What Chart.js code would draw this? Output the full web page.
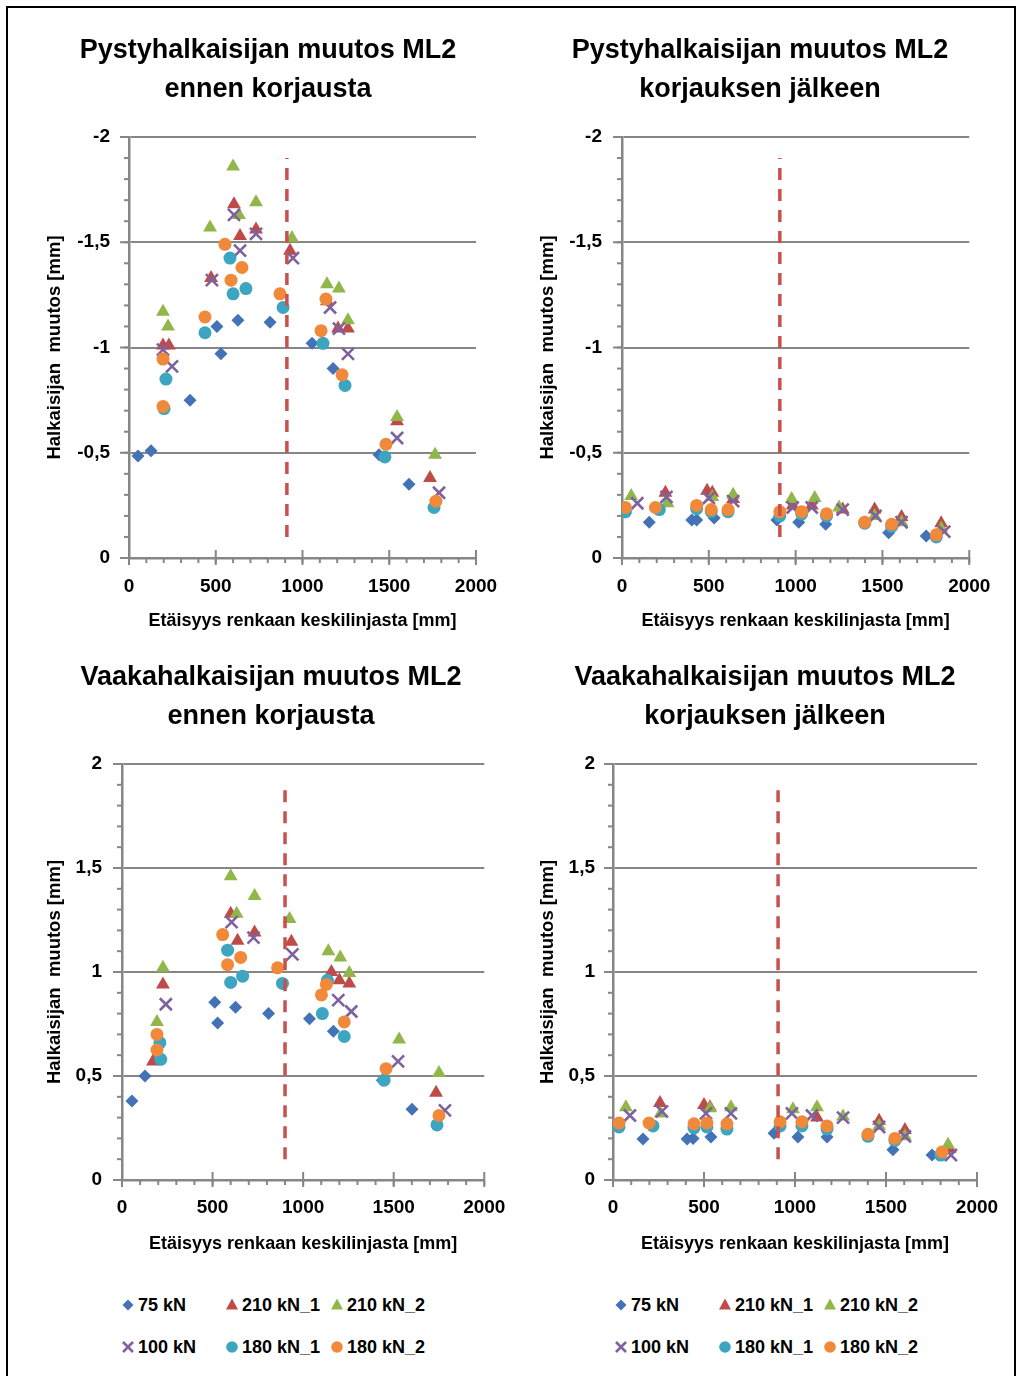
<!DOCTYPE html>
<html><head><meta charset="utf-8">
<script src="https://cdn.jsdelivr.net/npm/chart.js@4.4.1/dist/chart.umd.min.js"></script>
<style>
html,body{margin:0;padding:0;background:#fff;}
body{width:1017px;height:1376px;position:relative;overflow:hidden;font-family:"Liberation Sans",Arial,sans-serif;}
#frame{position:absolute;left:6px;top:6px;width:1006px;height:1400px;border:2px solid #000;}
canvas{position:absolute;}
.leg{position:absolute;font-weight:bold;font-size:18px;color:#000;white-space:nowrap;height:20px;line-height:20px;}
.leg svg{position:absolute;left:0;top:0;}
.leg span{position:absolute;left:17px;top:0;}
</style></head><body>
<div id="frame"></div>
<canvas id="c1" width="496" height="630" style="left:20px;top:10px"></canvas>
<canvas id="c2" width="496" height="630" style="left:512px;top:10px"></canvas>
<canvas id="c3" width="502" height="630" style="left:20px;top:637px"></canvas>
<canvas id="c4" width="502" height="630" style="left:514px;top:637px"></canvas>
<div id="legends"></div>
<script>
// ---------- data ----------
const seriesNames = ['75 kN','210 kN_1','210 kN_2','100 kN','180 kN_1','180 kN_2'];
const xTicks = [0,500,1000,1500,2000];
const yTicksPysty = [-2,-1.5,-1,-0.5,0];
const yTicksVaaka = [0,0.5,1,1.5,2];

// Pystyhalkaisijan muutos, ennen korjausta [x mm, y mm]
const pe75  = [[52,-0.485],[127,-0.51],[352,-0.75],[507,-1.10],[530,-0.97],[628,-1.13],[813,-1.12],[1055,-1.02],[1176,-0.90],[1441,-0.49],[1614,-0.35]];
const pe210a= [[196,-1.01],[230,-1.01],[473,-1.33],[605,-1.68],[640,-1.53],[732,-1.56],[928,-1.46],[1141,-1.22],[1205,-1.09],[1262,-1.09],[1545,-0.65],[1735,-0.38]];
const pe210b= [[196,-1.17],[225,-1.10],[467,-1.57],[600,-1.86],[634,-1.63],[732,-1.69],[939,-1.52],[1141,-1.30],[1210,-1.28],[1262,-1.13],[1545,-0.67],[1764,-0.49]];
const pe100 = [[196,-0.99],[248,-0.91],[478,-1.32],[605,-1.63],[640,-1.46],[732,-1.54],[945,-1.425],[1159,-1.19],[1210,-1.09],[1262,-0.97],[1545,-0.57],[1787,-0.31]];
const pe180a= [[202,-0.71],[213,-0.85],[438,-1.07],[582,-1.425],[600,-1.255],[674,-1.28],[888,-1.19],[1118,-1.02],[1245,-0.82],[1475,-0.48],[1758,-0.24]];
const pe180b= [[196,-0.72],[196,-0.945],[438,-1.145],[553,-1.49],[588,-1.32],[651,-1.38],[870,-1.255],[1107,-1.08],[1135,-1.23],[1228,-0.87],[1481,-0.54],[1769,-0.27]];

// Pystyhalkaisijan muutos, korjauksen jälkeen
const pj75  = [[157,-0.17],[402,-0.18],[430,-0.18],[531,-0.19],[892,-0.18],[1018,-0.17],[1173,-0.16],[1398,-0.17],[1536,-0.12],[1752,-0.105]];
const pj210a= [[250,-0.31],[490,-0.32],[520,-0.31],[640,-0.28],[983,-0.25],[1093,-0.25],[1271,-0.23],[1455,-0.23],[1610,-0.195],[1838,-0.165]];
const pj210b= [[53,-0.295],[262,-0.26],[520,-0.29],[640,-0.30],[977,-0.28],[1110,-0.285],[1250,-0.24],[1455,-0.20],[1610,-0.17],[1838,-0.14]];
const pj100 = [[88,-0.26],[256,-0.29],[500,-0.285],[640,-0.27],[983,-0.24],[1093,-0.24],[1271,-0.23],[1460,-0.20],[1610,-0.17],[1856,-0.125]];
const pj180a= [[20,-0.22],[215,-0.23],[430,-0.235],[514,-0.22],[611,-0.22],[909,-0.20],[1035,-0.21],[1178,-0.20],[1398,-0.165],[1553,-0.15],[1810,-0.10]];
const pj180b= [[20,-0.24],[192,-0.24],[430,-0.25],[514,-0.23],[611,-0.23],[909,-0.22],[1035,-0.22],[1178,-0.21],[1398,-0.17],[1553,-0.16],[1810,-0.11]];

// Vaakahalkaisijan muutos, ennen korjausta
const ve75  = [[55,0.38],[127,0.50],[512,0.855],[528,0.755],[627,0.83],[809,0.80],[1035,0.775],[1167,0.715],[1437,0.48],[1601,0.34]];
const ve210a= [[171,0.57],[226,0.94],[600,1.28],[638,1.15],[732,1.19],[935,1.145],[1156,1.00],[1200,0.96],[1255,0.945],[1734,0.42]];
const ve210b= [[193,0.76],[226,1.02],[600,1.46],[633,1.28],[732,1.365],[925,1.255],[1139,1.10],[1205,1.07],[1255,0.995],[1530,0.675],[1750,0.515]];
const ve100 = [[242,0.845],[605,1.24],[726,1.165],[941,1.085],[1194,0.865],[1266,0.81],[1524,0.57],[1783,0.335]];
const ve180a= [[209,0.66],[214,0.58],[583,1.105],[600,0.95],[666,0.98],[886,0.945],[1106,0.80],[1134,0.96],[1227,0.69],[1447,0.48],[1739,0.265]];
const ve180b= [[193,0.70],[193,0.625],[556,1.18],[583,1.035],[655,1.07],[859,1.02],[1101,0.89],[1128,0.94],[1227,0.76],[1458,0.535],[1750,0.31]];

// Vaakahalkaisijan muutos, korjauksen jälkeen
const vj75  = [[165,0.197],[407,0.197],[440,0.20],[538,0.207],[885,0.225],[1016,0.207],[1176,0.207],[1538,0.145],[1753,0.12]];
const vj210a= [[258,0.37],[500,0.36],[533,0.35],[1121,0.30],[1462,0.285],[1604,0.24],[1850,0.15]];
const vj210b= [[71,0.35],[262,0.32],[533,0.345],[648,0.35],[989,0.34],[1121,0.35],[1264,0.305],[1462,0.26],[1604,0.21],[1841,0.17]];
const vj100 = [[93,0.31],[269,0.33],[511,0.32],[648,0.32],[983,0.32],[1093,0.31],[1264,0.30],[1462,0.255],[1604,0.21],[1857,0.12]];
const vj180a= [[33,0.255],[220,0.26],[445,0.25],[516,0.255],[626,0.245],[918,0.26],[1038,0.26],[1176,0.245],[1401,0.21],[1549,0.19],[1800,0.12]];
const vj180b= [[33,0.274],[198,0.274],[445,0.27],[516,0.274],[626,0.27],[918,0.28],[1038,0.28],[1176,0.26],[1401,0.22],[1549,0.20],[1808,0.135]];

// red dashed reference line (x position, y from..to)
const cutPystyEnnenX = 910, cutPystyJalkX = 909, cutVaakaEnnenX = 900, cutVaakaJalkX = 907;
const cutPystyY = [-0.1,-1.9];
const cutVaakaY = [0.1,1.9];

// ---------- styling ----------
const STY = [
  {color:'#4372B6', style:'rectRot',  r:6.5, bw:0},
  {color:'#BE4B48', style:'triangle', r:8,   bw:0},
  {color:'#91B64A', style:'triangle', r:8,   bw:0},
  {color:'#7E62A0', style:'crossRot', r:8.5, bw:2.6},
  {color:'#3EA5C0', style:'circle',   r:6.5, bw:0},
  {color:'#F08A3A', style:'circle',   r:6.5, bw:0}
];
const AXIS = '#868686';
Chart.defaults.font.family = '"Liberation Sans", Arial, sans-serif';
Chart.defaults.color = '#000';

const excelTicks = {
  id:'excelTicks',
  beforeDatasetsDraw(chart){
    const ctx = chart.ctx, xs = chart.scales.x, ys = chart.scales.y, a = chart.chartArea;
    ctx.save();
    ctx.strokeStyle = AXIS; ctx.lineWidth = 2;
    const ln = (x1,y1,x2,y2)=>{ctx.beginPath();ctx.moveTo(x1,y1);ctx.lineTo(x2,y2);ctx.stroke();};
    ys.ticks.forEach(t=>{const p = ys.getPixelForValue(t.value); ln(a.left-9,p,a.left,p);});
    const n = Math.round((ys.max-ys.min)/0.1);
    for(let i=0;i<=n;i++){const p = ys.getPixelForValue(ys.min+i*0.1); ln(a.left-5,p,a.left,p);}
    xs.ticks.forEach(t=>{const p = xs.getPixelForValue(t.value); ln(p,a.bottom-8,p,a.bottom+7);});
    for(let i=0;i<=20;i++){const p = xs.getPixelForValue(i*100); ln(p,a.bottom,p,a.bottom+5);}
    ctx.restore();
  }
};

function fmt(v){ return String(v).replace('.',','); }

function makeChart(id, o){
  const sets = o.series.map((pts,i)=>({
    label: seriesNames[i],
    data: pts.map(([x,y])=>({x,y})),
    pointStyle: STY[i].style,
    pointRadius: STY[i].r,
    pointBorderWidth: STY[i].bw,
    backgroundColor: STY[i].color,
    borderColor: STY[i].color,
    showLine: false,
    order: 6-i
  }));
  sets.push({
    label:'cut', type:'line',
    data:[{x:o.cutX,y:o.cutY[0]},{x:o.cutX,y:o.cutY[1]}],
    borderColor:'#C8504D', borderWidth:3.5, borderDash:[12,9],
    pointRadius:0, showLine:true, fill:false, order:0
  });
  return new Chart(document.getElementById(id), {
    type:'scatter',
    data:{datasets:sets},
    plugins:[excelTicks],
    options:{
      responsive:false, animation:false, events:[],
      layout:{padding:0},
      plugins:{
        legend:{display:false}, tooltip:{enabled:false},
        title:{display:true, text:o.title, color:'#000',
          font:{size:27, weight:'bold', lineHeight:39/27},
          padding:{top:21.5,bottom:27.5}}
      },
      scales:{
        x:{type:'linear', min:0, max:2000,
          afterBuildTicks:s=>{s.ticks = xTicks.map(v=>({value:v}));},
          afterFit:s=>{s.height = o.xHeight;},
          ticks:{font:{size:19,weight:'bold'}, color:'#000', padding:o.xLabPad, maxRotation:0, autoSkip:false, callback:v=>fmt(v)},
          grid:{display:true, drawOnChartArea:false, drawTicks:false},
          border:{display:true, color:AXIS, width:2.5},
          title:{display:true, text:'Etäisyys renkaan keskilinjasta [mm]', color:'#000',
            font:{size:18, weight:'bold'}, padding:{top:0,bottom:o.xTitlePad}}
        },
        y:{type:'linear', min:o.yMin, max:o.yMax, reverse:o.reverse,
          afterBuildTicks:s=>{s.ticks = o.yTicks.map(v=>({value:v}));},
          afterFit:s=>{s.width = o.yWidth;},
          ticks:{font:{size:19,weight:'bold'}, color:'#000', padding:o.yLabPad, autoSkip:false, callback:v=>fmt(v)},
          grid:{color:AXIS, lineWidth:2, drawTicks:false},
          border:{display:true, color:AXIS, width:2.5},
          title:{display:true, text:'Halkaisijan  muutos [mm]', color:'#000',
            font:{size:18.5, weight:'bold'}, padding:{top:o.yTitlePad,bottom:0}}
        },
        // empty right-hand spacer so the title stays centred on the whole canvas
        yR:{type:'linear', position:'right', display:true,
          grid:{display:false, drawTicks:false}, ticks:{display:false}, border:{display:false},
          afterFit:s=>{s.width = o.padRight;}}
      }
    }
  });
}

makeChart('c1',{title:['Pystyhalkaisijan muutos ML2','ennen korjausta'],
  series:[pe75,pe210a,pe210b,pe100,pe180a,pe180b], cutX:cutPystyEnnenX, cutY:cutPystyY,
  yMin:-2, yMax:0, reverse:true, yTicks:yTicksPysty,
  yWidth:109, yTitlePad:23.9, yLabPad:19, padRight:40, xHeight:82, xLabPad:17.6, xTitlePad:8.2});
makeChart('c2',{title:['Pystyhalkaisijan muutos ML2','korjauksen jälkeen'],
  series:[pj75,pj210a,pj210b,pj100,pj180a,pj180b], cutX:cutPystyJalkX, cutY:cutPystyY,
  yMin:-2, yMax:0, reverse:true, yTicks:yTicksPysty,
  yWidth:110, yTitlePad:24.9, yLabPad:20, padRight:38, xHeight:82, xLabPad:17.6, xTitlePad:8.2});
makeChart('c3',{title:['Vaakahalkaisijan muutos ML2','ennen korjausta'],
  series:[ve75,ve210a,ve210b,ve100,ve180a,ve180b], cutX:cutVaakaEnnenX, cutY:cutVaakaY,
  yMin:0, yMax:2, reverse:false, yTicks:yTicksVaaka,
  yWidth:102, yTitlePad:23.9, yLabPad:20, padRight:37, xHeight:87, xLabPad:16.6, xTitlePad:12.2});
makeChart('c4',{title:['Vaakahalkaisijan muutos ML2','korjauksen jälkeen'],
  series:[vj75,vj210a,vj210b,vj100,vj180a,vj180b], cutX:cutVaakaJalkX, cutY:cutVaakaY,
  yMin:0, yMax:2, reverse:false, yTicks:yTicksVaaka,
  yWidth:99, yTitlePad:22.9, yLabPad:18, padRight:39, xHeight:87, xLabPad:16.6, xTitlePad:12.2});

// ---------- legends ----------
function markerSvg(i){
  const c = STY[i].color; let s='';
  if(STY[i].style==='rectRot') s=`<polygon points="7,4.5 12.5,10 7,15.5 1.5,10" fill="${c}"/>`;
  else if(STY[i].style==='triangle') s=`<polygon points="7,3.5 13,14.5 1,14.5" fill="${c}"/>`;
  else if(STY[i].style==='crossRot') s=`<path d="M2,5 L12,15 M12,5 L2,15" stroke="${c}" stroke-width="2.6"/>`;
  else s=`<circle cx="7" cy="10" r="5.8" fill="${c}"/>`;
  return `<svg width="14" height="20" viewBox="0 0 14 20">${s}</svg>`;
}
const legBase = [121, 614];
const colOff = [0, 104, 209];
const rowY = [1295, 1337];
let html='';
legBase.forEach(bx=>{
  seriesNames.forEach((nm,i)=>{
    const row = Math.floor(i/3), col = i%3;
    html += `<div class="leg" style="left:${bx+colOff[col]}px;top:${rowY[row]}px">${markerSvg(i)}<span>${nm}</span></div>`;
  });
});
document.getElementById('legends').innerHTML = html;
</script>
</body></html>
